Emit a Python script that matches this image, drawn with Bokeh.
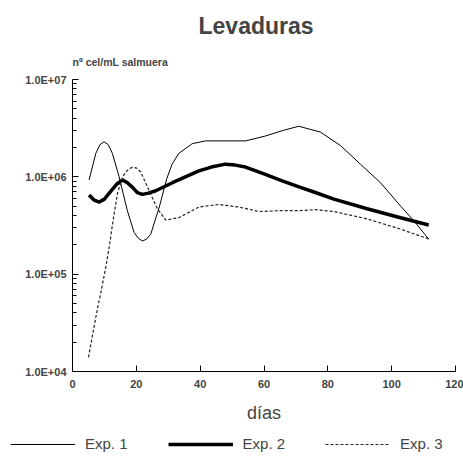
from bokeh.plotting import figure
from bokeh.models import (FixedTicker, Legend, LegendItem, Range1d, Title)
from bokeh.embed import file_html
from bokeh.resources import INLINE

# ---- data ----
exp1_days = [5.2, 7.3, 8.6, 9.9, 11.2, 12.5, 14.6, 17.2, 19.3, 20.6, 21.9, 23.2, 24.5,
             27.2, 29.5, 31.2, 33.3, 37.5, 41.7, 48.0, 54.2, 60.5, 66.0, 70.9, 77.7,
             84.0, 90.2, 96.5, 102.8, 106.9, 111.6]
exp1_vals = [9.3e5, 1.74e6, 2.14e6, 2.29e6, 2.14e6, 1.74e6, 1.0e6, 4.47e5, 2.69e5,
             2.34e5, 2.19e5, 2.29e5, 2.57e5, 4.9e5, 9.5e5, 1.35e6, 1.74e6, 2.19e6,
             2.34e6, 2.34e6, 2.34e6, 2.63e6, 3.0e6, 3.31e6, 2.88e6, 2.09e6, 1.35e6,
             8.7e5, 5.0e5, 3.55e5, 2.29e5]

exp2_days = [5.2, 6.8, 8.4, 10.0, 11.5, 14.0, 15.7, 17.2, 18.8, 20.3, 21.9, 23.8, 26.1,
             31.3, 39.6, 43.5, 47.9, 51.0, 54.2, 60.0, 65.7, 71.4, 76.1, 81.9, 92.3,
             102.8, 111.6]
exp2_vals = [6.5e5, 5.75e5, 5.5e5, 5.9e5, 6.8e5, 8.5e5, 9.3e5, 8.7e5, 7.8e5, 6.9e5,
             6.6e5, 6.8e5, 7.2e5, 8.7e5, 1.15e6, 1.26e6, 1.35e6, 1.32e6, 1.26e6, 1.07e6,
             9.1e5, 7.8e5, 6.9e5, 5.9e5, 4.7e5, 3.8e5, 3.2e5]

exp3_days = [5.0, 6.5, 7.8, 8.9, 10.4, 11.5, 12.5, 14.1, 15.7, 17.2, 18.8, 20.1, 21.4,
             24.0, 26.6, 29.2, 33.3, 39.6, 45.8, 52.1, 58.4, 65.7, 71.4, 76.1, 81.9,
             92.3, 102.8, 111.6]
exp3_vals = [1.4e4, 2.6e4, 4.4e4, 6.5e4, 1.17e5, 1.9e5, 3.2e5, 6.8e5, 1.0e6, 1.17e6,
             1.26e6, 1.23e6, 1.12e6, 7.2e5, 4.7e5, 3.6e5, 3.8e5, 4.9e5, 5.2e5, 4.9e5,
             4.4e5, 4.5e5, 4.5e5, 4.6e5, 4.4e5, 3.7e5, 2.9e5, 2.3e5]

series_names = ["Exp. 1", "Exp. 2", "Exp. 3"]
y_ticks = [1e4, 1e5, 1e6, 1e7]
y_tick_labels = ["1.0E+04", "1.0E+05", "1.0E+06", "1.0E+07"]
y_minor = [m * 10 ** k for k in (4, 5, 6) for m in range(2, 10)]
x_ticks = [0, 20, 40, 60, 80, 100, 120]
title_text = "Levaduras"
y_label_text = "nº cel/mL salmuera"
x_label_text = "días"

FONT = "Liberation Sans"

# The frame is widened left, right, up and down so that the legend and the
# axis labels can sit inside it; the axes are pinned at x=0 and y=1e4.
p = figure(frame_width=463, frame_height=396, y_axis_type="log", output_backend="svg",
           toolbar_location=None, title=None,
           x_range=Range1d(-22.56, 122.5), y_range=Range1d(10 ** 3.0137, 10 ** 7.0822),
           min_border_left=0, min_border_right=0, min_border_top=71,
           min_border_bottom=0)
p.outline_line_color = None
p.xgrid.visible = False
p.ygrid.visible = False
p.background_fill_color = "white"
p.border_fill_color = "white"

r1 = p.line(exp1_days, exp1_vals, line_color="black", line_width=1)
r2 = p.line(exp2_days, exp2_vals, line_color="black", line_width=3.5)
r3 = p.line(exp3_days, exp3_vals, line_color="#222222", line_width=1.2, line_dash="3 2")

# axes
xa = p.xaxis[0]
xa.fixed_location = y_ticks[0]
xa.bounds = (x_ticks[0], x_ticks[-1])
xa.ticker = FixedTicker(ticks=x_ticks, minor_ticks=[])
xa.major_tick_in = 6
xa.major_tick_out = 0
xa.minor_tick_in = 0
xa.minor_tick_out = 0
xa.axis_line_color = "black"
xa.major_label_text_font = FONT
xa.major_label_text_font_style = "bold"
xa.major_label_text_font_size = "11px"
xa.major_label_standoff = 8
xa.axis_label = x_label_text
xa.axis_label_text_font = FONT
xa.axis_label_text_font_style = "normal"
xa.axis_label_text_font_size = "18px"
xa.axis_label_standoff = 12

ya = p.yaxis[0]
ya.fixed_location = x_ticks[0]
ya.bounds = (y_ticks[0], y_ticks[-1])
ya.ticker = FixedTicker(ticks=y_ticks, minor_ticks=y_minor)
ya.major_label_overrides = {t: s for t, s in zip(y_ticks, y_tick_labels)}
ya.major_tick_in = 6
ya.major_tick_out = 0
ya.minor_tick_in = 4
ya.minor_tick_out = 0
ya.major_label_text_font = FONT
ya.major_label_text_font_style = "bold"
ya.major_label_text_font_size = "11px"
ya.major_label_standoff = 6

# y label (horizontal, above the axis) and main title
ylab = Title(text=y_label_text, align="left", text_font=FONT, text_font_style="bold",
             text_font_size="10.5px", standoff=8, offset=72)
main = Title(text=title_text, align="left", text_font=FONT, text_font_style="bold",
             text_font_size="23px", standoff=21, offset=198)
p.add_layout(ylab, "above")
p.add_layout(main, "above")

legend = Legend(items=[LegendItem(label=series_names[0], renderers=[r1]),
                       LegendItem(label=series_names[1], renderers=[r2]),
                       LegendItem(label=series_names[2], renderers=[r3])],
                orientation="horizontal", location=(10, 15),
                glyph_width=65, glyph_height=16, label_standoff=10, spacing=40,
                padding=0, margin=0, border_line_color=None,
                background_fill_alpha=0, label_text_font=FONT,
                label_text_font_size="15px")
p.add_layout(legend, "center")

open("out.html", "w").write(file_html(p, INLINE))
